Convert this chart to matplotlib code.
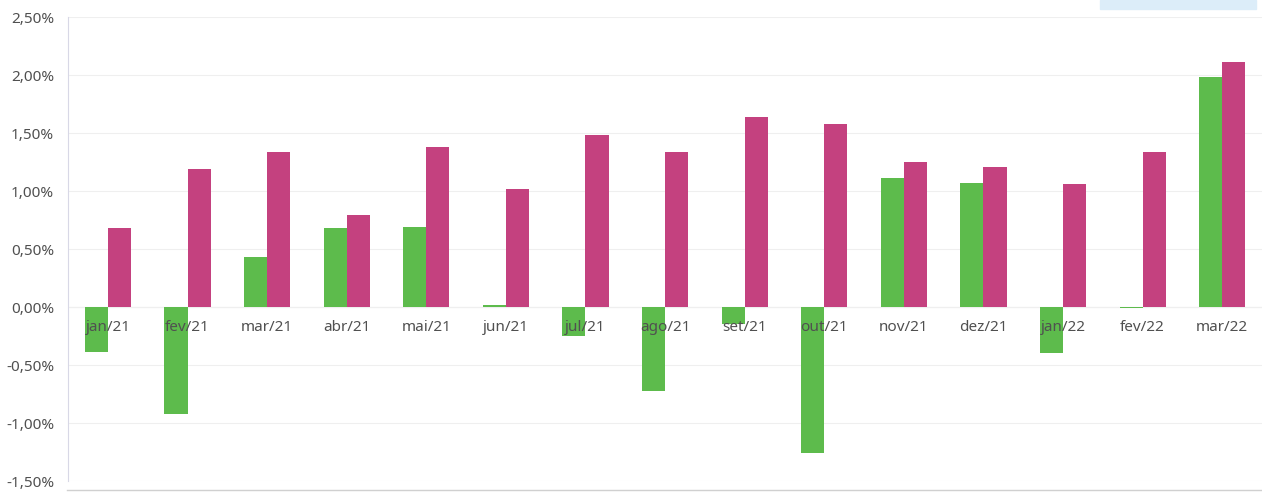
import matplotlib
matplotlib.use("Agg")
import matplotlib.pyplot as plt
from matplotlib.patches import Rectangle
import numpy as np

months = ["jan/21", "fev/21", "mar/21", "abr/21", "mai/21", "jun/21", "jul/21",
          "ago/21", "set/21", "out/21", "nov/21", "dez/21", "jan/22", "fev/22", "mar/22"]
green_vals = [-0.39, -0.92, 0.43, 0.68, 0.69, 0.02, -0.25, -0.72, -0.15, -1.26,
              1.11, 1.07, -0.40, -0.01, 1.98]
magenta_vals = [0.68, 1.19, 1.34, 0.79, 1.38, 1.02, 1.48, 1.34, 1.64, 1.58,
                1.25, 1.21, 1.06, 1.34, 2.11]
y_ticks = [-1.5, -1.0, -0.5, 0.0, 0.5, 1.0, 1.5, 2.0, 2.5]

GREEN = "#5dbb4c"
MAGENTA = "#c4417f"
TEXT = "#505050"

plt.rcParams["font.family"] = ["Noto Sans", "DejaVu Sans"]

fig = plt.figure(figsize=(12.62, 4.93), dpi=100)
fig.patch.set_facecolor("white")
ax = fig.add_axes([0.054, 0.0243, 0.946, 0.9412])

x = np.arange(len(months))
w = 0.29
ax.bar(x - w / 2, green_vals, width=w, color=GREEN, zorder=2)
ax.bar(x + w / 2, magenta_vals, width=w, color=MAGENTA, zorder=2)

# category labels sit just under the zero line, drawn over the bars
for xi, lab in zip(x, months):
    ax.text(xi, -0.18, lab, ha="center", va="center", fontsize=11,
            color=TEXT, zorder=3)

ax.set_xlim(-0.5, len(months) - 0.5)
ax.set_ylim(-1.5, 2.5)
ax.set_yticks(y_ticks)
ax.set_yticklabels([f"{v:.2f}%".replace(".", ",") for v in y_ticks],
                   fontsize=11, color=TEXT)
ax.set_xticks([])
ax.tick_params(axis="y", length=0, pad=10)
ax.grid(axis="y", color="#efefef", linewidth=0.8, zorder=0)
ax.axhline(0, color="#e4e4e4", linewidth=0.8, zorder=1)

for side in ("top", "right", "bottom"):
    ax.spines[side].set_visible(False)
ax.spines["left"].set_color("#d8d8e6")
ax.spines["left"].set_linewidth(0.8)

# faint frame line at the bottom and the cut-off box at the top right
fig.add_artist(plt.Line2D([0.053, 1.0], [0.006, 0.006], color="#d0d0d0",
                          linewidth=1.0, transform=fig.transFigure))
fig.add_artist(Rectangle((0.872, 0.982), 0.123, 0.018, color="#dcedf9",
                         transform=fig.transFigure, zorder=0))

fig.savefig("out.png", dpi=100, facecolor=fig.get_facecolor())
plt.close(fig)
